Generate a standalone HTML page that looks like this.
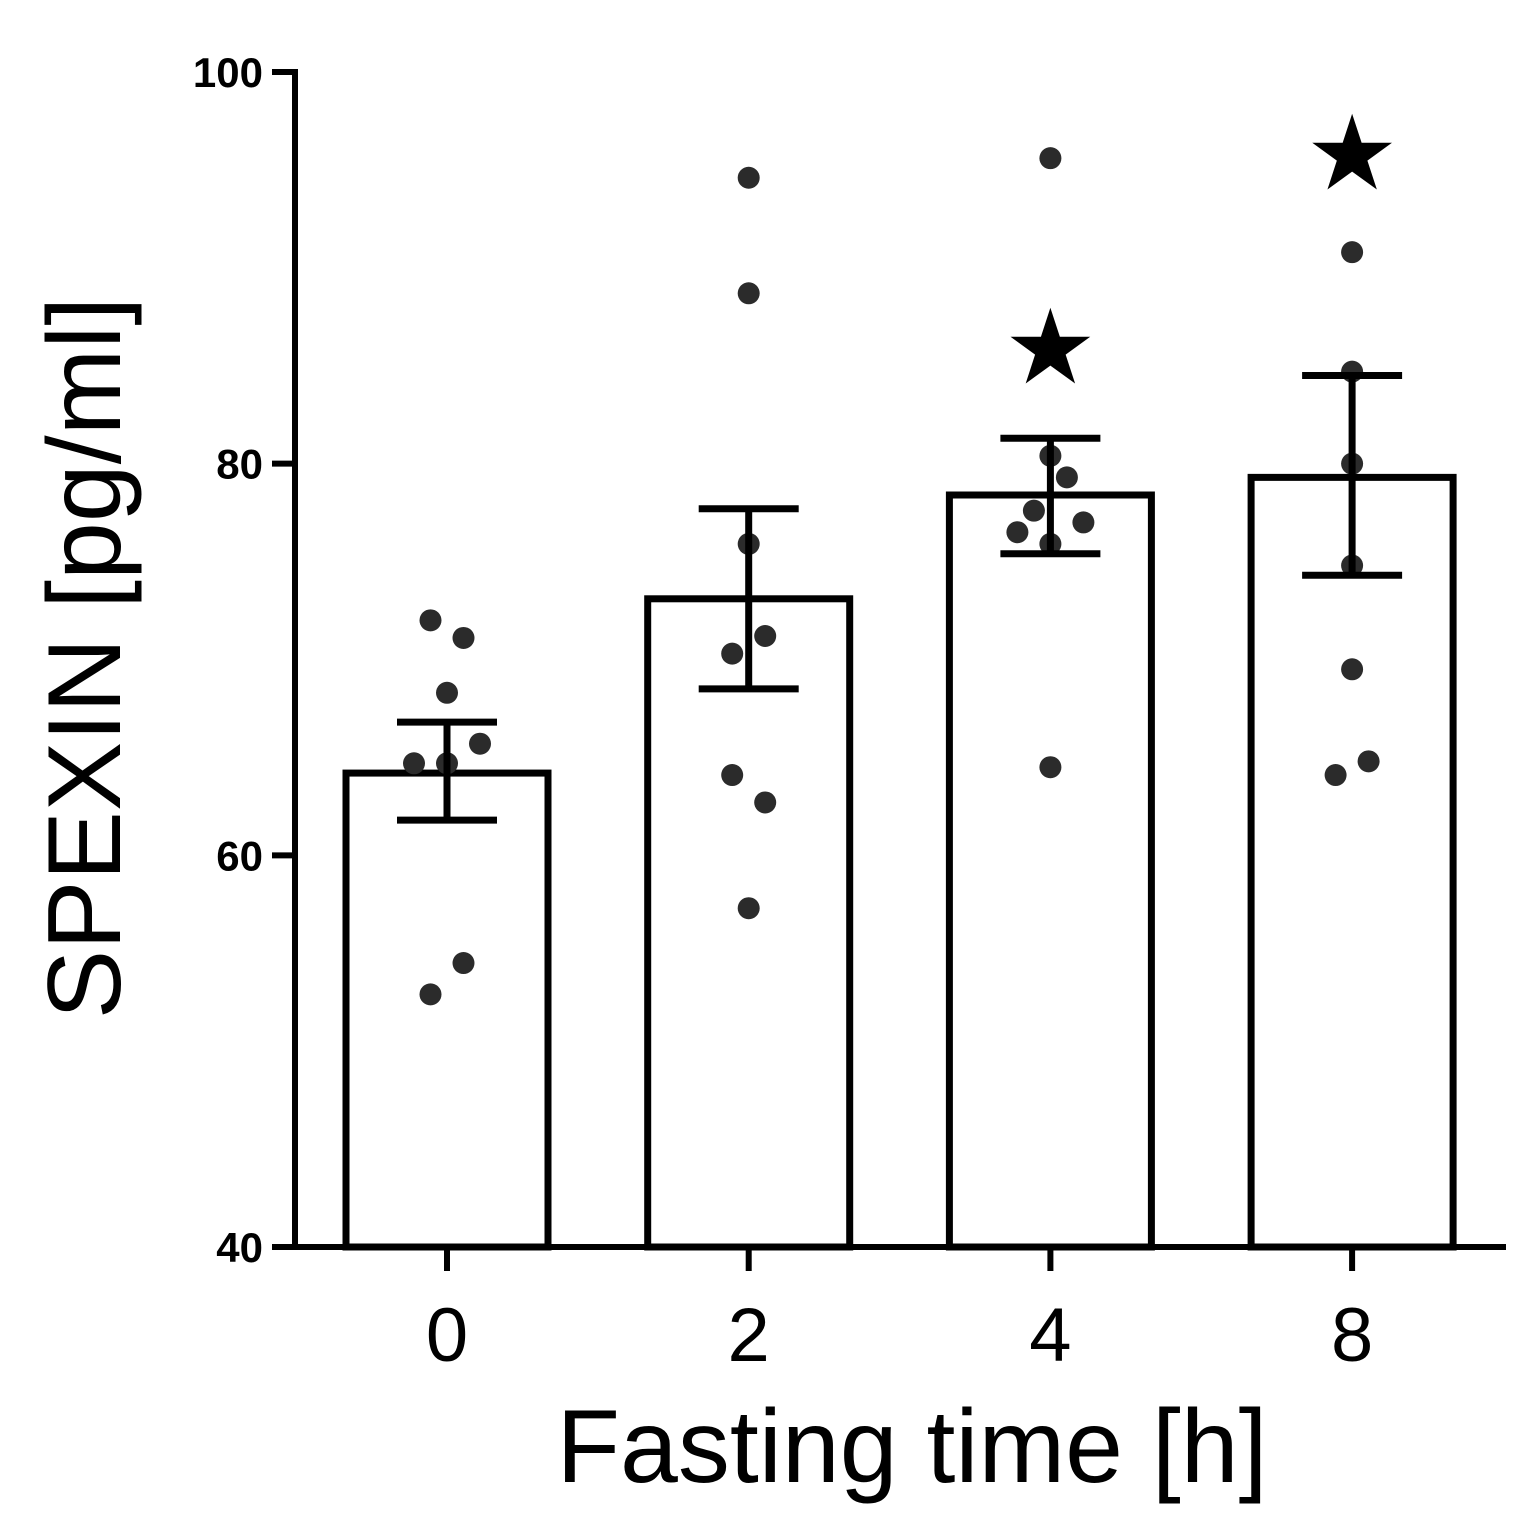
<!DOCTYPE html>
<html><head><meta charset="utf-8"><style>
html,body{margin:0;padding:0;background:#fff;}
svg{display:block;}
</style></head><body>
<svg id="chart" width="1538" height="1538" viewBox="0 0 1538 1538" xmlns="http://www.w3.org/2000/svg">
<g id="axes"></g>
<g id="marks"></g>
<text x="912" y="1482" font-family="Liberation Sans, sans-serif" font-size="104" text-anchor="middle">Fasting time [h]</text>
<text transform="translate(120,658) rotate(-90)" font-family="Liberation Sans, sans-serif" font-size="104" text-anchor="middle">SPEXIN [pg/ml]</text>
</svg>
<script>
const categories = ["0","2","4","8"];
const means = [64.2, 73.1, 78.4, 79.3];
const errHigh = [66.8, 77.7, 81.3, 84.5];
const errLow = [61.8, 68.5, 75.4, 74.3];
const points0 = [72.0, 71.1, 68.3, 64.7, 64.7, 65.7, 54.5, 52.9];
const points2 = [94.6, 88.7, 75.9, 70.3, 71.2, 64.1, 62.7, 57.3];
const points4 = [95.6, 80.4, 79.3, 77.6, 76.5, 77.0, 75.9, 64.5];
const points8 = [90.8, 84.7, 80.0, 74.8, 69.5, 64.1, 64.8];
const jitter0 = [-1, 1, 0, -2, 0, 2, 1, -1];
const jitter2 = [0, 0, 0, -1, 1, -1, 1, 0];
const jitter4 = [0, 0, 1, -1, -2, 2, 0, 0];
const jitter8 = [0, 0, 0, 0, 0, -1, 1];
const stars = [null, null, 85.8, 95.7];
const yTicks = [40, 60, 80, 100];

const NS = "http://www.w3.org/2000/svg";
const yMin = 40, yMax = 100, yPx0 = 1247, yPx1 = 72;
function y(v){ return yPx0 - (v - yMin) / (yMax - yMin) * (yPx0 - yPx1); }
const xStart = 447, xStep = 301.7;
function x(i){ return xStart + i * xStep; }
const barW = 202, jitterPx = 16.5;

function mk(tag, attrs, parent){
  const el = document.createElementNS(NS, tag);
  for (const k in attrs) el.setAttribute(k, attrs[k]);
  parent.appendChild(el);
  return el;
}
const axes = document.getElementById('axes');
const marks = document.getElementById('marks');

let yl = mk('line', {x1:295, y1:y(yMax)-3, x2:295, y2:y(yMin)+3, stroke:'#000', 'stroke-width':6}, axes);


let xl = mk('line', {x1:292, y1:y(yMin), x2:1506, y2:y(yMin), stroke:'#000', 'stroke-width':6}, axes);


yTicks.forEach(t => {
  const tk = mk('line', {x1:272, y1:y(t), x2:297, y2:y(t), stroke:'#000', 'stroke-width':6}, axes);
  
  
  const lb = mk('text', {x:263, y:y(t)+15, 'font-family':'Liberation Sans, sans-serif', 'font-size':42, 'font-weight':'bold', 'text-anchor':'end'}, axes);
  lb.textContent = t;
  
  
});
categories.forEach((c, i) => {
  const tk = mk('line', {x1:x(i), y1:y(yMin), x2:x(i), y2:y(yMin)+24, stroke:'#000', 'stroke-width':6}, axes);
  
  
  const lb = mk('text', {x:x(i), y:1361, 'font-family':'Liberation Sans, sans-serif', 'font-size':76, 'text-anchor':'middle'}, axes);
  lb.textContent = c;
  
  
});

const pts = [points0, points2, points4, points8];
const jit = [jitter0, jitter2, jitter4, jitter8];
categories.forEach((c, i) => {
  const b = mk('rect', {x:x(i)-barW/2, y:y(means[i]), width:barW, height:y(yMin)-y(means[i]), fill:'#fff', stroke:'#000', 'stroke-width':7}, marks);
  
  
  pts[i].forEach((v, j) => {
    const d = mk('circle', {cx:x(i)+jit[i][j]*jitterPx, cy:y(v), r:11, fill:'#2b2b2b'}, marks);
    
    
  });
  const g = mk('g', {stroke:'#000', 'stroke-width':7}, marks);
  
  
  mk('line', {x1:x(i), y1:y(errHigh[i]), x2:x(i), y2:y(errLow[i])}, g);
  mk('line', {x1:x(i)-50, y1:y(errHigh[i]), x2:x(i)+50, y2:y(errHigh[i])}, g);
  mk('line', {x1:x(i)-50, y1:y(errLow[i]), x2:x(i)+50, y2:y(errLow[i])}, g);
  if (stars[i] !== null) {
    const s = mk('text', {x:x(i), y:y(stars[i])+33, 'font-family':'DejaVu Sans, sans-serif', 'font-size':104, 'text-anchor':'middle', fill:'#000'}, marks);
    s.textContent = '★';
    
    
  }
});
</script>
</body></html>
